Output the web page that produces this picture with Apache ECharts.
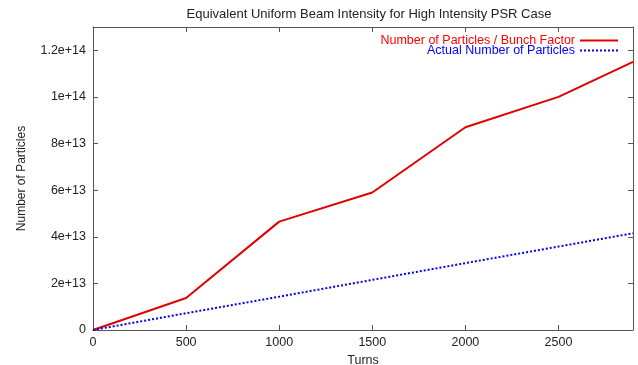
<!DOCTYPE html>
<html>
<head>
<meta charset="utf-8">
<script src="https://cdn.jsdelivr.net/npm/echarts@6/dist/echarts.min.js"></script>
<style>
  html, body { margin: 0; padding: 0; background: #fff; }
  #chart { width: 638px; height: 365px; }
</style>
</head>
<body>
<div id="chart"></div>
<script>
const turns = [0, 500, 1000, 1500, 2000, 2500, 2900];
const bunchFactorParticles = [0, 1.37e13, 4.65e13, 5.9e13, 8.7e13, 1.0e14, 1.15e14];
const actualParticles = [0, 0.72e13, 1.43e13, 2.15e13, 2.87e13, 3.58e13, 4.15e13];
const yTickLabels = { 0: '0', 2e13: '2e+13', 4e13: '4e+13', 6e13: '6e+13', 8e13: '8e+13', 1e14: '1e+14', 1.2e14: '1.2e+14' };

const font = 'Liberation Sans, Arial, sans-serif';
const axisColor = '#555';

const chart = echarts.init(document.getElementById('chart'));

const tickCommon = { show: true, inside: true, length: 5, lineStyle: { color: axisColor } };

chart.setOption({
  animation: false,
  title: {
    text: 'Equivalent Uniform Beam Intensity for High Intensity PSR Case',
    left: 364, top: 3, textAlign: 'center',
    textStyle: { fontFamily: font, fontSize: 13, fontWeight: 'normal', color: '#222' }
  },
  legend: {
    orient: 'vertical', right: 14, top: 29, align: 'right',
    itemWidth: 38, itemHeight: 8, itemGap: -3,
    itemStyle: { opacity: 0 },
    textStyle: { fontFamily: font, fontSize: 12.5 },
    data: [
      { name: 'Number of Particles / Bunch Factor', textStyle: { color: '#f00' } },
      { name: 'Actual Number of Particles', textStyle: { color: '#00f' } }
    ]
  },
  grid: { left: 93, right: 5, top: 27, bottom: 35, containLabel: false, outerBoundsMode: 'none' },
  xAxis: [{
    type: 'value', min: 0, max: 2900, interval: 500,
    name: 'Turns', nameLocation: 'middle', nameGap: 10,
    nameTextStyle: { fontFamily: font, fontSize: 12.5, color: '#222' },
    axisLine: { onZero: false, lineStyle: { color: axisColor } },
    axisTick: tickCommon,
    splitLine: { show: false },
    axisLabel: {
      fontFamily: font, fontSize: 12.5, color: '#222', margin: 6,
      formatter: v => (v % 500 === 0 ? String(v) : '')
    }
  }, {
    type: 'value', min: 0, max: 2900, interval: 500, position: 'top',
    axisLine: { show: true, onZero: false, lineStyle: { color: axisColor } },
    axisTick: tickCommon, axisLabel: { show: false }, splitLine: { show: false }
  }],
  yAxis: [{
    type: 'value', min: 0, max: 1.3e14, interval: 2e13,
    name: 'Number of Particles', nameLocation: 'middle', nameGap: 65, nameRotate: 90,
    nameTextStyle: { fontFamily: font, fontSize: 12, color: '#222' },
    axisLine: { show: true, onZero: false, lineStyle: { color: axisColor } },
    axisTick: tickCommon,
    splitLine: { show: false },
    axisLabel: {
      fontFamily: font, fontSize: 12.5, color: '#222', margin: 7,
      formatter: v => (yTickLabels[v] !== undefined ? yTickLabels[v] : '')
    }
  }, {
    type: 'value', min: 0, max: 1.3e14, interval: 2e13, position: 'right',
    axisLine: { show: true, onZero: false, lineStyle: { color: axisColor } },
    axisTick: tickCommon, axisLabel: { show: false }, splitLine: { show: false }
  }],
  series: [{
    name: 'Number of Particles / Bunch Factor',
    type: 'line', showSymbol: false, symbol: 'none',
    data: turns.map((t, i) => [t, bunchFactorParticles[i]]),
    lineStyle: { color: '#e00000', width: 2 },
    itemStyle: { color: '#e00000' }
  }, {
    name: 'Actual Number of Particles',
    type: 'line', showSymbol: false, symbol: 'none',
    data: turns.map((t, i) => [t, actualParticles[i]]),
    lineStyle: { color: '#0000ee', width: 2, type: [2, 2] },
    itemStyle: { color: '#0000ee' }
  }]
});
</script>
</body>
</html>
